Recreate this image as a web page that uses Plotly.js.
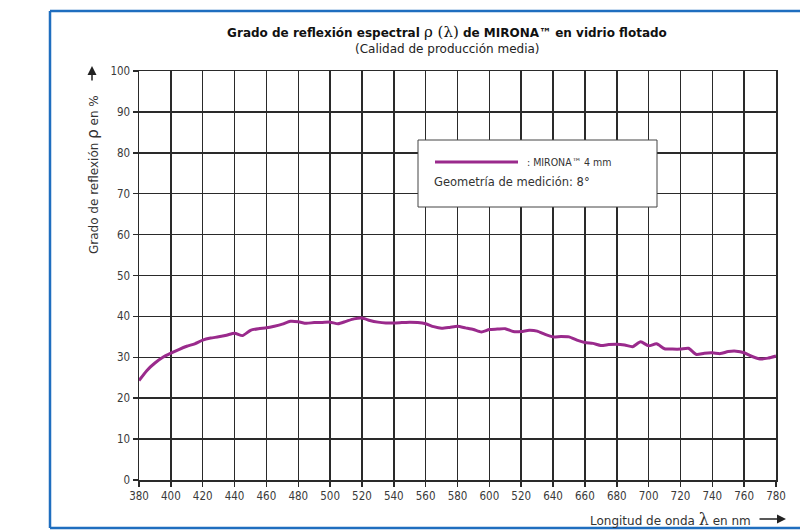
<!DOCTYPE html>
<html>
<head>
<meta charset="utf-8">
<script src="https://cdn.plot.ly/plotly-3.0.1.min.js"></script>
<style>
html,body{margin:0;padding:0;background:#fff;}
#chart{width:800px;height:531px;}
</style>
</head>
<body>
<div id="chart"></div>
<script>
// Wavelength (nm)
var wavelength = [380,385,390,395,400,405,410,415,420,425,430,435,440,445,450,455,460,465,470,475,
  480,485,490,495,500,505,510,515,520,525,530,535,540,545,550,555,560,565,570,575,
  580,585,590,595,600,605,610,615,620,625,630,635,640,645,650,655,660,665,670,675,
  680,685,690,695,700,705,710,715,720,725,730,735,740,745,750,755,760,765,770,775,780];
// Reflection (%) MIRONA 4 mm
var reflection = [24.3,26.8,28.6,30.0,31.0,31.9,32.7,33.3,34.2,34.7,35.0,35.4,35.9,35.3,36.6,37.0,37.2,37.6,38.1,38.8,
  38.7,38.3,38.5,38.5,38.6,38.2,38.8,39.4,39.6,39.0,38.6,38.4,38.4,38.5,38.6,38.5,38.2,37.5,37.1,37.3,
  37.6,37.2,36.8,36.2,36.8,36.9,37.0,36.3,36.3,36.6,36.4,35.6,35.0,35.1,35.0,34.2,33.6,33.4,32.9,33.1,
  33.2,33.0,32.6,33.8,32.8,33.3,32.1,32.0,32.0,32.2,30.7,31.0,31.1,30.9,31.4,31.5,31.1,30.2,29.6,29.8,30.3];

var xTickVals = [380,400,420,440,460,480,500,520,540,560,580,600,620,640,660,680,700,720,740,760,780];
var xTickText = ["380","400","420","440","460","480","500","520","540","560","580","600","520","640","660","680","700","720","740","760","780"];
var yTickVals = [0,10,20,30,40,50,60,70,80,90,100];

var seriesName = ": MIRONA™ 4 mm";
var noteText = "Geometría de medición: 8°";

var lineColor = "#9a2a8c";
var gridColor = "#2a2a2a";
var frameColor = "#1f6ebf";
var tickFont = {family: "DejaVu Sans Condensed, Liberation Sans Narrow, DejaVu Sans, sans-serif", size: 11.5, color: "#3a3a3a"};

var trace = {
  x: wavelength, y: reflection, type: "scatter", mode: "lines",
  line: {color: lineColor, width: 3, shape: "spline", smoothing: 0.6},
  name: seriesName, showlegend: false, hoverinfo: "x+y"
};

// pixel -> paper helpers (plot area: x 139..776, y 71..480)
function px(x){ return (x-139)/637; }
function py(y){ return (480-y)/409; }

var layout = {
  width: 800, height: 531,
  margin: {l: 139, r: 24, t: 71, b: 51},
  paper_bgcolor: "#fff", plot_bgcolor: "#fff",
  title: {
    text: "<b>Grado de reflexión espectral </b><span style=\"font-family:'DejaVu Serif',serif;font-size:15px\">ρ (λ)</span><b> de MIRONA™ en vidrio flotado</b>",
    font: {family: "DejaVu Sans, sans-serif", size: 12, color: "#111"},
    x: 447/800, xanchor: "center", y: 1 - 33/531, yanchor: "middle"
  },
  xaxis: {
    range: [380, 780], tickmode: "array", tickvals: xTickVals, ticktext: xTickText,
    showgrid: true, gridcolor: gridColor, gridwidth: 1.5,
    showline: true, linecolor: gridColor, linewidth: 1.5, mirror: true,
    ticks: "outside", ticklen: 5, tickcolor: gridColor, tickwidth: 1.5,
    tickfont: tickFont, zeroline: false, fixedrange: true
  },
  yaxis: {
    range: [0, 100], tickmode: "array", tickvals: yTickVals,
    showgrid: true, gridcolor: gridColor, gridwidth: 1.5,
    showline: true, linecolor: gridColor, linewidth: 1.5, mirror: true,
    ticks: "outside", ticklen: 5, tickcolor: gridColor, tickwidth: 1.5,
    tickfont: tickFont, zeroline: false, fixedrange: true
  },
  shapes: [
    // blue frame
    {type: "line", xref: "paper", yref: "paper", x0: px(50), x1: px(50), y0: py(11), y1: py(528), line: {color: frameColor, width: 2.5}},
    {type: "line", xref: "paper", yref: "paper", x0: px(50), x1: px(802), y0: py(11), y1: py(11), line: {color: frameColor, width: 2.5}},
    {type: "line", xref: "paper", yref: "paper", x0: px(50), x1: px(802), y0: py(528), y1: py(528), line: {color: frameColor, width: 2.5}},
    // legend box
    {type: "rect", xref: "paper", yref: "paper", x0: px(418), x1: px(657), y0: py(207), y1: py(140),
     fillcolor: "#fff", line: {color: "#444", width: 1}, layer: "above"},
    {type: "line", xref: "paper", yref: "paper", x0: px(435), x1: px(518), y0: py(162), y1: py(162),
     line: {color: lineColor, width: 3}, layer: "above"}
  ],
  annotations: [
    {text: "(Calidad de producción media)", xref: "paper", yref: "paper", x: px(447), y: py(49),
     xanchor: "center", yanchor: "middle", showarrow: false,
     font: {family: "DejaVu Sans, sans-serif", size: 12, color: "#222"}},
    {text: "Grado de reflexión <span style=\"font-size:15px\">ρ</span> en %", xref: "paper", yref: "paper",
     x: px(93), y: py(175), textangle: -90, xanchor: "center", yanchor: "middle", showarrow: false,
     font: {family: "DejaVu Sans, sans-serif", size: 12, color: "#333"}},
    {text: "", xref: "paper", yref: "paper", x: px(92), y: py(66), ax: 0, ay: 16,
     showarrow: true, arrowhead: 2, arrowsize: 1.2, arrowwidth: 1.5, arrowcolor: "#222"},
    {text: "Longitud de onda <span style=\"font-family:'DejaVu Serif',serif;font-size:16px\">λ</span> en nm", xref: "paper", yref: "paper",
     x: px(753), y: py(519), xanchor: "right", yanchor: "middle", showarrow: false,
     font: {family: "DejaVu Sans, sans-serif", size: 12, color: "#333"}},
    {text: "", xref: "paper", yref: "paper", x: px(786), y: py(519), ax: -28, ay: 0,
     showarrow: true, arrowhead: 2, arrowsize: 1.2, arrowwidth: 1.5, arrowcolor: "#222"},
    {text: seriesName, xref: "paper", yref: "paper", x: px(525), y: py(162),
     xanchor: "left", yanchor: "middle", showarrow: false,
     font: {family: "DejaVu Sans Condensed, DejaVu Sans, sans-serif", size: 10.5, color: "#333"}},
    {text: noteText, xref: "paper", yref: "paper", x: px(432), y: py(182),
     xanchor: "left", yanchor: "middle", showarrow: false,
     font: {family: "DejaVu Sans, sans-serif", size: 11.5, color: "#333"}}
  ]
};

Plotly.newPlot("chart", [trace], layout, {displayModeBar: false, staticPlot: true});
</script>
</body>
</html>
